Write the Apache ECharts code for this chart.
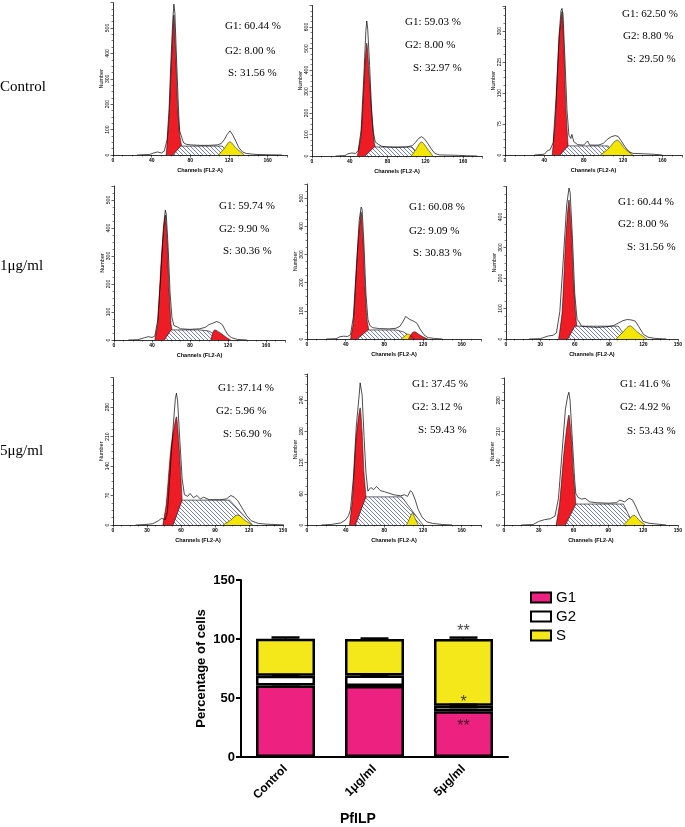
<!DOCTYPE html>
<html><head><meta charset="utf-8">
<script src="https://cdn.jsdelivr.net/npm/echarts@6/dist/echarts.min.js"></script>
<style>html,body{margin:0;padding:0;background:#fff}#c{width:685px;height:827px}</style>
</head><body><div id="c"></div>
<script>
// ---------- DATA ----------
const rowLabels = ['Control', '1μg/ml', '5μg/ml'];
const g1Pct = ['60.44', '59.03', '62.50', '59.74', '60.08', '60.44', '37.14', '37.45', '41.6'];
const g2Pct = ['8.00', '8.00', '8.80', '9.90', '9.09', '8.00', '5.96', '3.12', '4.92'];
const sPct  = ['31.56', '32.97', '29.50', '30.36', '30.83', '31.56', '56.90', '59.43', '53.43'];

const panelXMax      = [180, 180, 180, 180, 180, 150, 150, 180, 150];
const panelXInterval = [40, 40, 40, 40, 40, 30, 30, 40, 30];
const panelYMax      = [600, 700, 360, 550, 550, 500, 350, 290, 330];
const panelYInterval = [100, 100, 75, 100, 100, 100, 70, 60, 70];

// panel 1 (Control A)
const outline1 = [[25,0],[38,2],[42,8],[46,12],[50,8],[53,15],[56,60],[58,180],[60,380],[62,540],[63,594],[64,560],[66,350],[68,160],[69,95],[71,70],[73,48],[76,42],[80,40],[90,38],[100,38],[108,40],[112,45],[115,60],[118,80],[121,95],[124,78],[127,55],[130,30],[134,12],[138,6],[145,3],[150,2],[160,1],[175,0]];
const g1Peak1 = [[55,0],[58,150],[60,330],[63,551],[65,380],[67,180],[69,80],[71,35],[72,0]];
const sPhase1 = [[62,0],[70,35],[113,35],[121,0]];
const g2Peak1 = [[109,0],[115,25],[121,52],[127,28],[136,0]];
// panel 2 (Control B)
const outline2 = [[25,0],[35,2],[38,10],[42,14],[46,12],[49,25],[52,120],[55,380],[57,580],[58,628],[59,590],[61,420],[63,220],[65,110],[67,65],[70,55],[74,45],[80,42],[90,40],[100,42],[106,48],[110,65],[113,82],[116,90],[119,80],[122,62],[126,35],[130,12],[135,5],[145,4],[155,3],[165,1],[175,0]];
const g1Peak2 = [[48,0],[52,100],[56,420],[58,525],[61,350],[64,150],[66,60],[67,42],[68,0]];
const sPhase2 = [[56,0],[66,42],[106,42],[114,0]];
const g2Peak2 = [[105,0],[110,30],[116,65],[122,35],[128,0]];
// panel 3 (Control C)
const outline3 = [[30,0],[40,2],[43,10],[46,13],[49,30],[52,140],[55,290],[57,350],[58,355],[59,340],[61,230],[63,110],[65,48],[67,40],[68,50],[70,32],[74,25],[80,24],[84,34],[86,24],[95,24],[100,28],[104,38],[108,44],[112,47],[115,45],[118,35],[122,20],[126,8],[130,4],[140,3],[150,2],[160,0]];
const g1Peak3 = [[48,0],[51,80],[55,280],[58,347],[60,250],[62,110],[64,30],[65,0]];
const sPhase3 = [[56,0],[64,22],[105,22],[110,0]];
const g2Peak3 = [[97,0],[105,15],[114,36],[122,15],[130,0]];
// panel 4 (1 μg/ml A)
const outline4 = [[15,0],[25,1],[32,8],[36,12],[40,9],[43,14],[46,70],[49,220],[52,400],[54,464],[55,450],[57,330],[59,170],[61,80],[63,52],[65,48],[67,46],[70,40],[80,38],[90,40],[96,45],[100,55],[104,60],[108,66],[111,62],[114,55],[117,35],[120,18],[124,8],[130,2],[140,0]];
const g1Peak4 = [[43,0],[46,60],[50,300],[54,446],[56,350],[58,180],[60,60],[61,36],[62,0]];
const sPhase4 = [[53,0],[60,36],[90,36],[100,32],[116,0]];
const g2Peak4 = [];
const g2Red4 = [[102,0],[104,25],[106,36],[112,25],[118,10],[123,0]];
// panel 5 (1 μg/ml B)
const outline5 = [[20,0],[30,1],[34,8],[38,10],[42,9],[45,15],[48,80],[51,250],[54,420],[56,468],[57,460],[59,330],[61,160],[63,70],[65,48],[68,40],[75,37],[85,36],[92,38],[96,45],[99,60],[102,80],[104,85],[106,70],[108,75],[111,62],[114,55],[117,35],[121,15],[125,5],[132,2],[140,0]];
const g1Peak5 = [[45,0],[48,60],[52,300],[56,450],[58,350],[60,180],[62,70],[64,32],[65,0]];
const sPhase5 = [[52,0],[63,32],[92,32],[100,25],[110,0]];
const g2Peak5 = [[97,0],[101,10],[104,18],[108,10],[111,0]];
const g2Red5 = [[105,0],[108,18],[111,26],[116,16],[121,6],[125,0]];
// panel 6 (1 μg/ml C)
const outline6 = [[20,0],[30,1],[33,5],[37,10],[41,12],[44,20],[47,90],[50,260],[53,440],[55,495],[56,480],[58,330],[60,150],[62,65],[64,55],[66,42],[70,40],[80,38],[88,40],[94,44],[98,52],[102,60],[106,64],[110,62],[113,58],[116,40],[120,15],[124,6],[130,2],[140,0]];
const g1Peak6 = [[46,0],[49,90],[52,320],[55,456],[57,360],[59,180],[61,70],[62,40],[63,0]];
const sPhase6 = [[54,0],[60,42],[98,42],[106,0]];
const g2Peak6 = [[96,0],[102,22],[108,43],[115,22],[123,0]];
// panel 7 (5 μg/ml A)
const outline7 = [[20,0],[28,1],[35,3],[40,10],[43,16],[46,12],[48,30],[50,110],[53,230],[55,300],[56,313],[57,295],[59,200],[61,110],[63,72],[66,68],[68,75],[71,65],[74,70],[77,62],[80,66],[85,60],[95,60],[100,62],[104,70],[107,66],[110,58],[114,40],[118,22],[122,10],[128,4],[135,2],[145,1],[152,0]];
const g1Peak7 = [[44,0],[47,50],[51,180],[56,257],[58,200],[60,110],[61,59],[62,0]];
const sPhase7 = [[53,0],[61,59],[103,59],[123,0]];
const g2Peak7 = [[97,0],[103,10],[110,24],[117,10],[123,0]];
// panel 8 (5 μg/ml B)
const outline8 = [[15,0],[25,1],[35,4],[40,10],[43,18],[45,30],[48,90],[51,190],[54,250],[55,273],[57,250],[59,170],[61,100],[63,65],[66,72],[69,68],[72,74],[76,66],[80,64],[90,58],[97,56],[101,58],[104,55],[107,66],[109,62],[112,48],[115,30],[119,15],[124,6],[130,3],[140,1],[150,0]];
const g1Peak8 = [[44,0],[47,50],[51,170],[55,225],[57,180],[59,100],[61,54],[62,0]];
const sPhase8 = [[50,0],[61,54],[98,54],[120,0]];
const g2Peak8 = [[103,0],[106,12],[109,23],[112,12],[115,0]];
// panel 9 (5 μg/ml C)
const outline9 = [[15,0],[25,1],[30,8],[35,12],[40,14],[44,20],[47,60],[50,160],[53,260],[55,290],[56,298],[57,280],[59,190],[61,100],[62,70],[64,62],[67,58],[70,60],[74,52],[80,50],[90,49],[97,50],[100,56],[104,52],[108,60],[111,56],[114,40],[117,22],[120,8],[125,4],[132,2],[140,0]];
const g1Peak9 = [[45,0],[48,50],[52,170],[56,247],[58,200],[60,110],[62,47],[63,0]];
const sPhase9 = [[53,0],[62,47],[103,47],[112,0]];
const g2Peak9 = [[103,0],[107,10],[112,22],[117,10],[122,0]];

// bar chart
const categories = ['Control', '1μg/ml', '5μg/ml'];
const g1Mean = [60.66, 60.09, 38.73];
const g2Mean = [8.27, 9.00, 4.67];
const sMean  = [31.34, 30.92, 56.59];
const g1Err = [1.0, 0.4, 1.2];
const g2Err = [0.5, 0.5, 0.9];
const sErr  = [1.0, 0.4, 1.2];
const yTicks = [0, 50, 100, 150];
const stars = [[2, 106, '**'], [2, 46.5, '*'], [2, 26, '**']];

// ---------- LAYOUT ----------
const outlines = [outline1, outline2, outline3, outline4, outline5, outline6, outline7, outline8, outline9];
const g1Peaks = [g1Peak1, g1Peak2, g1Peak3, g1Peak4, g1Peak5, g1Peak6, g1Peak7, g1Peak8, g1Peak9];
const sPhases = [sPhase1, sPhase2, sPhase3, sPhase4, sPhase5, sPhase6, sPhase7, sPhase8, sPhase9];
const g2Peaks = [g2Peak1, g2Peak2, g2Peak3, g2Peak4, g2Peak5, g2Peak6, g2Peak7, g2Peak8, g2Peak9];
const extraRed = {3: g2Red4, 4: g2Red5};

const panelBoxes = [
  [113, 2.6, 174, 152.4], [312, 5.5, 170, 150.5], [505, 6.3, 177, 148.7],
  [114, 186, 171, 154], [307, 184, 174, 155], [506, 186.5, 172, 152.5],
  [113, 377.6, 170, 147.4], [307, 374, 174, 151], [504, 378, 174, 147]
];
const g1Pos = [[225,27],[405,23],[622,15],[219,207],[409,208],[618,203],[218,389],[412,385],[620,385]];
const g2Pos = [[225,52],[405,46],[623,37],[219,230],[409,232],[618,225],[216,412],[412,408],[620,408]];
const sPos  = [[228,74],[413,69],[627,60],[223,252],[413,254],[627,248],[223,435],[418,431],[627,432]];
const rowLabelY = [88, 267, 452];

const hatch = (() => {
  const c = document.createElement('canvas'); c.width = 4; c.height = 4;
  const ctx = c.getContext('2d');
  ctx.fillStyle = '#fff'; ctx.fillRect(0, 0, 4, 4);
  ctx.strokeStyle = '#5060b8'; ctx.lineWidth = 0.8;
  ctx.beginPath();
  ctx.moveTo(0, 0); ctx.lineTo(4, 4);
  ctx.moveTo(-1, 3); ctx.lineTo(1, 5);
  ctx.moveTo(3, -1); ctx.lineTo(5, 1);
  ctx.stroke();
  return c;
})();

const serif = '"Liberation Serif", "Times New Roman", serif';
const sans = '"Liberation Sans", Arial, sans-serif';

const grids = [], xAxes = [], yAxes = [], series = [], graphics = [];
for (let i = 0; i < 9; i++) {
  const b = panelBoxes[i];
  grids.push({left: b[0], top: b[1], width: b[2], height: b[3]});
  xAxes.push({
    type: 'value', gridIndex: i, min: 0, max: panelXMax[i], interval: panelXInterval[i],
    name: 'Channels (FL2-A)', nameLocation: 'middle', nameGap: 12,
    nameTextStyle: {fontSize: 5.5, fontWeight: 'bold', fontFamily: sans, color: '#000'},
    axisLine: {show: true, onZero: false, lineStyle: {color: '#000', width: 0.8}},
    axisTick: {show: true, length: 2.5, lineStyle: {color: '#000', width: 0.6}},
    minorTick: {show: true, splitNumber: 4, length: 1.5, lineStyle: {color: '#000', width: 0.5}},
    axisLabel: {fontSize: 5, fontWeight: 'bold', color: '#000', fontFamily: sans, margin: 3,
      showMaxLabel: panelXMax[i] % panelXInterval[i] === 0},
    splitLine: {show: false}
  });
  yAxes.push({
    type: 'value', gridIndex: i, min: 0, max: panelYMax[i], interval: panelYInterval[i],
    name: 'Number', nameLocation: 'middle', nameGap: 9, nameRotate: 90,
    nameTextStyle: {fontSize: 5.5, color: '#000', fontFamily: sans},
    axisLine: {show: true, lineStyle: {color: '#000', width: 0.8}},
    axisTick: {show: true, length: 2.5, lineStyle: {color: '#000', width: 0.6}},
    minorTick: {show: true, splitNumber: 4, length: 1.5, lineStyle: {color: '#000', width: 0.5}},
    axisLabel: {fontSize: 5, color: '#000', fontFamily: sans, rotate: 90, margin: 3, showMaxLabel: false},
    splitLine: {show: false}
  });
  const common = {type: 'line', xAxisIndex: i, yAxisIndex: i, showSymbol: false, symbol: 'none', silent: true, animation: false};
  series.push(Object.assign({}, common, {name: 'g1peak' + i, data: g1Peaks[i], z: 2, smooth: 0.2,
    lineStyle: {color: '#000', width: 0.5}, areaStyle: {color: '#ee1c25', opacity: 1}}));
  series.push(Object.assign({}, common, {name: 'sphase' + i, data: sPhases[i], z: 3,
    lineStyle: {color: '#222', width: 0.7}, areaStyle: {color: {image: hatch, repeat: 'repeat'}, opacity: 1}}));
  if (g2Peaks[i].length) series.push(Object.assign({}, common, {name: 'g2peak' + i, data: g2Peaks[i], z: 4, smooth: 0.3,
    lineStyle: {color: '#000', width: 0.5}, areaStyle: {color: '#f3e600', opacity: 1}}));
  if (extraRed[i]) series.push(Object.assign({}, common, {name: 'g2red' + i, data: extraRed[i], z: 4, smooth: 0.3,
    lineStyle: {color: '#000', width: 0.5}, areaStyle: {color: '#ee1c25', opacity: 1}}));
  series.push(Object.assign({}, common, {name: 'outline' + i, data: outlines[i], z: 5,
    lineStyle: {color: '#000', width: 0.7}}));

  const font = '11px ' + serif;
  graphics.push({type: 'text', left: g1Pos[i][0], top: g1Pos[i][1] - 6, style: {text: 'G1: ' + g1Pct[i] + ' %', font: font, fill: '#000'}});
  graphics.push({type: 'text', left: g2Pos[i][0], top: g2Pos[i][1] - 6, style: {text: 'G2: ' + g2Pct[i] + ' %', font: font, fill: '#000'}});
  graphics.push({type: 'text', left: sPos[i][0], top: sPos[i][1] - 6, style: {text: 'S: ' + sPct[i] + ' %', font: font, fill: '#000'}});
}
rowLabels.forEach((t, r) => {
  graphics.push({type: 'text', left: 0, top: rowLabelY[r] - 8, style: {text: t, font: '15px ' + serif, fill: '#000'}});
});
graphics.push({type: 'text', left: 340, top: 812, style: {text: 'PfILP', font: 'bold 14px ' + sans, fill: '#000'}});

// bar chart grid (index 9)
grids.push({left: 241, top: 580, width: 267, height: 177});
xAxes.push({
  type: 'category', gridIndex: 9, data: categories,
  axisLine: {lineStyle: {color: '#000', width: 2}},
  axisTick: {alignWithLabel: true, length: 6, lineStyle: {color: '#000', width: 2}},
  axisLabel: {rotate: 45, fontSize: 12, fontWeight: 'bold', color: '#000', fontFamily: sans, margin: 10}
});
yAxes.push({
  type: 'value', gridIndex: 9, min: yTicks[0], max: yTicks[yTicks.length - 1], interval: yTicks[1] - yTicks[0],
  name: 'Percentage of cells', nameLocation: 'middle', nameGap: 33,
  nameTextStyle: {fontSize: 13, fontWeight: 'bold', color: '#000', fontFamily: sans},
  axisLine: {show: true, lineStyle: {color: '#000', width: 2}},
  axisTick: {show: true, length: 5, lineStyle: {color: '#000', width: 2}},
  axisLabel: {fontSize: 13, fontWeight: 'bold', color: '#000', fontFamily: sans, margin: 6},
  splitLine: {show: false}
});
const barCommon = {type: 'bar', xAxisIndex: 9, yAxisIndex: 9, stack: 'cells', barWidth: 59, animation: false};
series.push(Object.assign({}, barCommon, {name: 'G1', data: g1Mean, itemStyle: {color: '#ec2180', borderColor: '#000', borderWidth: 2.5}}));
series.push(Object.assign({}, barCommon, {name: 'G2', data: g2Mean, itemStyle: {color: '#ffffff', borderColor: '#000', borderWidth: 2.5}}));
series.push(Object.assign({}, barCommon, {name: 'S', data: sMean, itemStyle: {color: '#f5e81a', borderColor: '#000', borderWidth: 2.5}}));

const errData = [];
for (let k = 0; k < 3; k++) {
  errData.push([k, g1Mean[k], g1Err[k]]);
  errData.push([k, g1Mean[k] + g2Mean[k], g2Err[k]]);
  errData.push([k, g1Mean[k] + g2Mean[k] + sMean[k], sErr[k]]);
}
series.push({
  type: 'custom', name: 'err', xAxisIndex: 9, yAxisIndex: 9, data: errData, z: 10, animation: false, silent: true,
  renderItem: (params, api) => {
    const x = api.value(0), v = api.value(1), e = api.value(2);
    const pHi = api.coord([x, v + e]);
    const pLo = api.coord([x, v]);
    const hw = 14;
    return {type: 'group', children: [
      {type: 'line', shape: {x1: pLo[0], y1: pLo[1], x2: pHi[0], y2: pHi[1]}, style: {stroke: '#000', lineWidth: 2}},
      {type: 'line', shape: {x1: pHi[0] - hw, y1: pHi[1], x2: pHi[0] + hw, y2: pHi[1]}, style: {stroke: '#000', lineWidth: 2.5}}
    ]};
  }
});
series.push({
  type: 'scatter', name: 'stars', xAxisIndex: 9, yAxisIndex: 9, data: stars, symbolSize: 1, z: 11, animation: false, silent: true,
  itemStyle: {color: 'rgba(0,0,0,0)'},
  label: {show: true, position: 'inside', formatter: p => p.data[2], fontSize: 16, color: '#111', fontFamily: sans}
});

const chart = echarts.init(document.getElementById('c'), null, {renderer: 'canvas'});
chart.setOption({
  animation: false,
  backgroundColor: '#fff',
  grid: grids, xAxis: xAxes, yAxis: yAxes, series: series,
  legend: {
    data: ['G1', 'G2', 'S'], orient: 'vertical', left: 525, top: 585, itemWidth: 20, itemHeight: 10, itemGap: 4,
    icon: 'rect', selectedMode: false,
    itemStyle: {borderColor: '#000', borderWidth: 2},
    textStyle: {fontSize: 15, color: '#000', fontFamily: sans}
  },
  graphic: graphics
});
</script></body></html>
